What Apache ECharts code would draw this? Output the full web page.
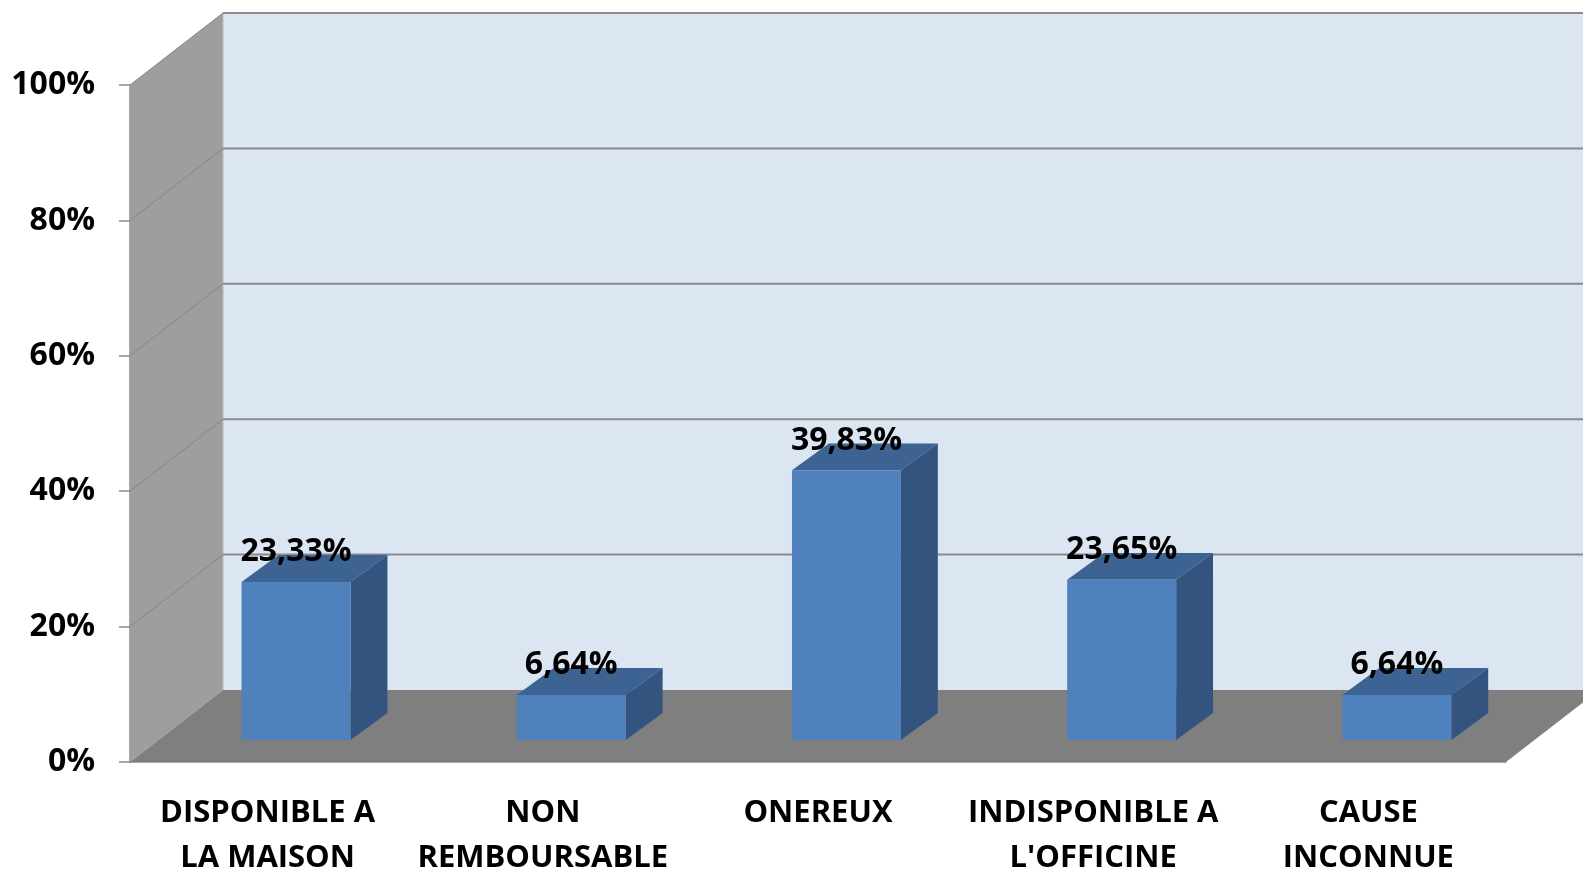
<!DOCTYPE html>
<html>
<head>
<meta charset="utf-8">
<script src="https://cdn.jsdelivr.net/npm/echarts@6/dist/echarts.min.js"></script>
<style>
  html, body { margin: 0; padding: 0; background: #fff; }
  #chart { width: 1583px; height: 872px; }
</style>
</head>
<body>
<div id="chart"></div>
<script>
// donnees du graphique
var categories = ['DISPONIBLE A\nLA MAISON', 'NON\nREMBOURSABLE', 'ONEREUX', 'INDISPONIBLE A\nL\'OFFICINE', 'CAUSE\nINCONNUE'];
var values = [23.33, 6.64, 39.83, 23.65, 6.64];
var yTicks = [0, 20, 40, 60, 80, 100];

// decalage de profondeur (effet 3D)
var DX = 93, DY = -72;
var F0 = 0.306, F1 = 0.68;   // position de la barre dans la profondeur
var FONT = '"Open Sans", "DejaVu Sans", sans-serif';

var chart = echarts.init(document.getElementById('chart'));

function drawWalls(params, api) {
    var cs = params.coordSys;
    var left = cs.x, right = cs.x + cs.width, top = cs.y, bottom = cs.y + cs.height;
    var children = [];
    children.push({ type: 'rect', shape: { x: left + DX, y: top + DY, width: cs.width, height: cs.height },
        style: { fill: '#DCE6F2' } });
    children.push({ type: 'polygon', shape: { points: [[left, bottom], [left, top], [left + DX, top + DY], [left + DX, bottom + DY]] },
        style: { fill: '#9E9E9E' } });
    children.push({ type: 'polygon', shape: { points: [[left, bottom], [right, bottom], [right + DX, bottom + DY], [left + DX, bottom + DY]] },
        style: { fill: '#7F7F7F' } });
    children.push({ type: 'line', shape: { x1: left + DX, y1: top + DY, x2: left + DX, y2: bottom + DY },
        style: { stroke: '#B8B8B8', lineWidth: 1 } });
    yTicks.forEach(function (t) {
        if (t === 0) return;
        var y = api.coord([0, t])[1];
        children.push({ type: 'line', shape: { x1: left + DX, y1: y + DY, x2: right + DX, y2: y + DY },
            style: { stroke: '#8A8A8A', lineWidth: 2 } });
        children.push({ type: 'line', shape: { x1: left, y1: y, x2: left + DX, y2: y + DY },
            style: { stroke: '#858585', lineWidth: 1 } });
    });
    return { type: 'group', children: children };
}

function drawBar(params, api) {
    var idx = api.value(0), val = api.value(1);
    var base = api.coord([idx, 0]);
    var topPt = api.coord([idx, val]);
    var w = api.size([1, 0])[0] * 0.396;
    var x0 = base[0] - w / 2 + DX * F0, x1 = x0 + w;
    var yb = base[1] + DY * F0, yt = topPt[1] + DY * F0;
    var ddx = DX * (F1 - F0) * 1.06, ddy = DY * (F1 - F0);
    return {
        type: 'group',
        children: [
            { type: 'polygon', shape: { points: [[x0, yt], [x1, yt], [x1 + ddx, yt + ddy], [x0 + ddx, yt + ddy]] },
              style: { fill: '#3D6393' } },
            { type: 'polygon', shape: { points: [[x1, yb], [x1, yt], [x1 + ddx, yt + ddy], [x1 + ddx, yb + ddy]] },
              style: { fill: '#32547F' } },
            { type: 'rect', shape: { x: x0, y: yt, width: w, height: yb - yt },
              style: { fill: '#4F81BD' } },
            { type: 'text', x: (x0 + x1) / 2, y: yt + ddy - 3,
              style: { text: val.toFixed(2).replace('.', ',') + '%', fill: '#000',
                       font: 'bold 32px ' + FONT, align: 'center', verticalAlign: 'middle' } }
        ]
    };
}

chart.setOption({
    animation: false,
    grid: { left: 130, right: 77, top: 85, bottom: 110, containLabel: false, outerBoundsMode: 'none' },
    xAxis: {
        type: 'category',
        data: categories,
        axisLine: { lineStyle: { color: '#8A8A8A', width: 1.5 } },
        axisTick: { length: 11, lineStyle: { color: '#8A8A8A', width: 1.5 } },
        axisLabel: { interval: 0, margin: 29, color: '#000', fontFamily: FONT, fontWeight: 'bold',
                     fontSize: 31, lineHeight: 45 }
    },
    yAxis: {
        type: 'value',
        min: 0, max: 100, interval: 20,
        axisLine: { show: true, lineStyle: { color: '#8A8A8A', width: 1.5 } },
        axisTick: { show: true, length: 11, lineStyle: { color: '#8A8A8A', width: 1.5 } },
        splitLine: { show: false },
        axisLabel: { margin: 35, color: '#000', fontFamily: FONT, fontWeight: 'bold', fontSize: 32,
                     padding: [4, 0, 0, 0],
                     formatter: function (v) { return yTicks.indexOf(v) >= 0 ? v + '%' : ''; } }
    },
    series: [
        { type: 'custom', silent: true, renderItem: drawWalls, data: [[0, 0]], z: 1 },
        { type: 'custom', renderItem: drawBar, z: 2,
          data: values.map(function (v, i) { return [i, v]; }) }
    ]
});
</script>
</body>
</html>
